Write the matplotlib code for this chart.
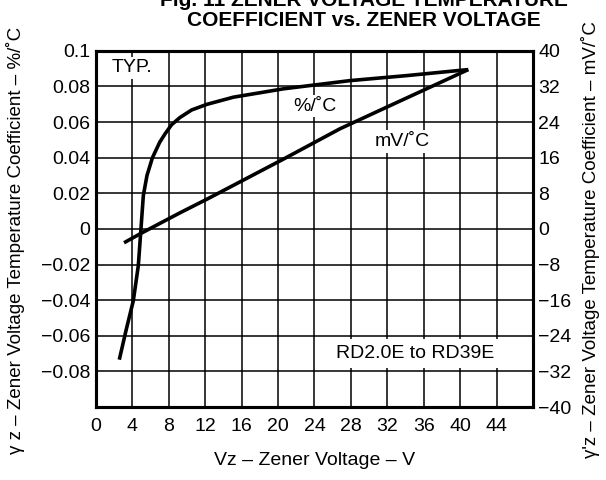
import matplotlib
matplotlib.use('Agg')
import matplotlib.pyplot as plt

# values
vz_pct = [2.56, 3.3, 4.1, 4.65, 4.9, 5.2, 5.6, 6.2, 7.0, 7.6, 8.3, 9.2, 10.5, 12.2, 15.1,
          20.6, 27.9, 34.1, 40.9]
tc_pct = [-0.0734, -0.057, -0.0403, -0.0206, -0.0028, 0.0187, 0.030, 0.040, 0.0487, 0.0535,
          0.0585, 0.0625, 0.0668, 0.070, 0.074, 0.0787, 0.0833, 0.0861, 0.0895]

vz_mv = [3.08, 4.84, 9.2, 12.2, 20.6, 26.8, 32.3, 40.9]
tc_mv = [-3.1, -1.1, 3.6, 6.7, 15.7, 22.5, 27.7, 35.8]

x_ticks = list(range(0, 49, 4))
x_labels = [str(v) for v in range(0, 45, 4)] + ['']
left_ticks = [0.1, 0.08, 0.06, 0.04, 0.02, 0, -0.02, -0.04, -0.06, -0.08, -0.1]
left_labels = ['0.1', '0.08', '0.06', '0.04', '0.02', '0', '\u22120.02', '\u22120.04',
               '\u22120.06', '\u22120.08', '']
right_ticks = list(range(-40, 41, 8))
right_labels = ['\u221240', '\u221232', '\u221224', '\u221216', '\u22128', '0',
                '8', '16', '24', '32', '40']

plt.rcParams['font.family'] = ['Liberation Sans', 'DejaVu Sans']
fs = 14

fig = plt.figure(figsize=(6.06, 4.80), dpi=100)
ax = fig.add_axes([0.1584, 0.152, 0.721, 0.742])
ax.set_xlim(0, 48)
ax.set_ylim(-0.1, 0.1)
ax.set_xticks(x_ticks)
ax.set_xticklabels(x_labels, fontsize=fs)
ax.set_yticks(left_ticks)
ax.set_yticklabels(left_labels, fontsize=fs)
ax.tick_params(axis='both', length=0, pad=4)
ax.tick_params(axis='x', pad=8)
ax.grid(True, color='black', lw=1.1)
ax.set_axisbelow(True)
for s in ax.spines.values():
    s.set_linewidth(2.2)

ax2 = ax.twinx()
ax2.set_ylim(-40, 40)
ax2.set_yticks(right_ticks)
ax2.set_yticklabels(right_labels, fontsize=fs)
ax2.tick_params(axis='y', length=0, pad=4)
for s in ax2.spines.values():
    s.set_linewidth(2.2)

ax.plot(vz_pct, tc_pct, color='black', lw=2.6, solid_capstyle='butt',
        solid_joinstyle='round', zorder=3)
ax2.plot(vz_mv, tc_mv, color='black', lw=2.6, solid_capstyle='butt',
         solid_joinstyle='round', zorder=3)

box = dict(facecolor='white', edgecolor='none', pad=2)
ax.text(1.7, 0.0905, 'TYP.', fontsize=fs, ha='left', va='center', bbox=box, zorder=4)
ax.text(24.0, 0.069, '%/\u02daC', fontsize=fs, ha='center', va='center', bbox=box, zorder=4)
ax.text(33.6, 0.049, 'mV/\u02daC', fontsize=fs, ha='center', va='center', bbox=box, zorder=4)
ax.text(43.7, -0.07, 'RD2.0E to RD39E', fontsize=fs, ha='right', va='center',
        bbox=dict(facecolor='white', edgecolor='none', pad=4), zorder=4)

ax.set_xlabel('Vz \u2013 Zener Voltage \u2013 V', fontsize=fs, labelpad=12)
fig.text(0.025, 0.5, '\u03b3 z \u2013 Zener Voltage Temperature Coefficient \u2013 %/\u02daC',
         rotation=90, fontsize=13.5, ha='center', va='center')
fig.text(0.975, 0.5, "\u03b3'z \u2013 Zener Voltage Temperature Coefficient \u2013 mV/\u02daC",
         rotation=90, fontsize=13.5, ha='center', va='center')

tfont = ['Liberation Sans Narrow', 'Liberation Sans']
fig.text(0.60, 1.0, 'Fig. 11 ZENER VOLTAGE TEMPERATURE', fontsize=15, fontweight='bold',
         family=tfont, ha='center', va='center')
fig.text(0.60, 0.957, 'COEFFICIENT vs. ZENER VOLTAGE', fontsize=15, fontweight='bold',
         family=tfont, ha='center', va='center')

fig.savefig('out.png', dpi=100)
